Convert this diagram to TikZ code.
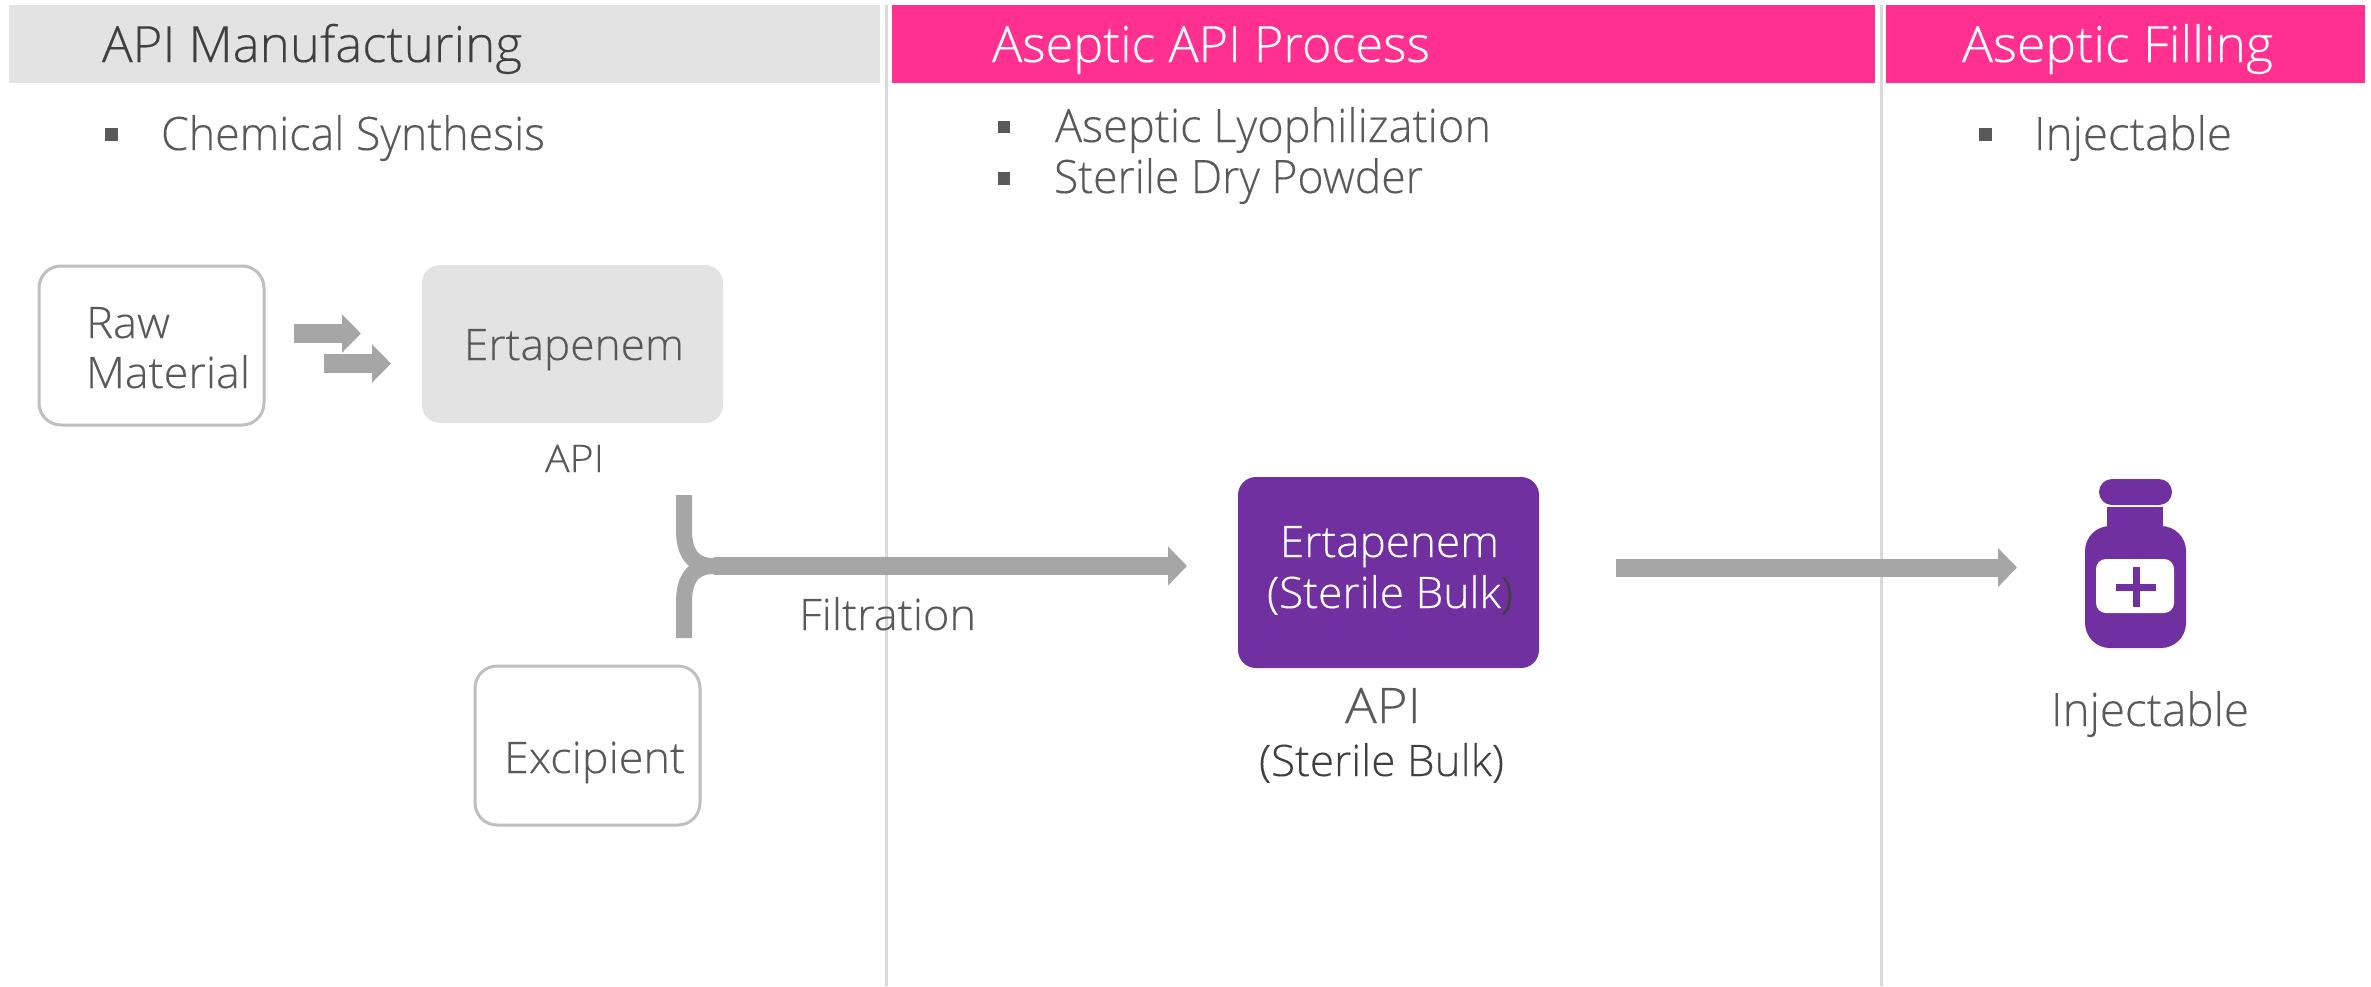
\documentclass[tikz,border=0pt]{standalone}
\usepackage{fontspec}
\usepackage{graphicx}
\setmainfont{Open Sans Light}[FakeBold=0.25,UprightFeatures={FakeBold=0.25}]
\usetikzlibrary{arrows.meta}
\definecolor{hgray}{HTML}{E3E3E3}
\definecolor{hpink}{HTML}{FF3090}
\definecolor{vpurple}{HTML}{7030A0}
\definecolor{agray}{HTML}{A6A6A6}
\definecolor{txt}{HTML}{595959}
\definecolor{txtd}{HTML}{404040}
\definecolor{edgec}{HTML}{BFBFBF}
\definecolor{divc}{HTML}{D9D9D9}
\newcommand{\tw}[2]{\resizebox{#1\dimexpr 0.5pt\relax}{\height}{#2}}
\newcommand{\fsz}[1]{\fontsize{#1pt}{#1pt}\selectfont}
\tikzset{
  x=0.5pt,y=-0.5pt,
  band/.style={fill=#1,draw=none},
  lbl/.style={inner sep=0pt,outer sep=0pt,anchor=base west,text=txt},
  bullet/.style={fill=txt,draw=none},
  divider/.style={draw=divc,line width=1.5pt},
  outlinebox/.style={draw=edgec,line width=1.5pt,rounded corners=11pt,fill=white},
  graybox/.style={fill=hgray,rounded corners=9pt},
  purplebox/.style={fill=vpurple,rounded corners=9pt},
  bigarrow/.style={draw=agray,line width=9pt,-{Triangle[width=19pt,length=9.5pt,fill=agray]}},
  smallarrow/.style={draw=agray,line width=9.7pt,-{Triangle[width=18.7pt,length=9.5pt,fill=agray]}},
  bracket/.style={draw=agray,line width=8pt},
}
\begin{document}
\begin{tikzpicture}
\useasboundingbox (0,0) rectangle (2371,986);
% dividers
\draw[divider] (886,5) -- (886,986);
\draw[divider] (1881,5) -- (1881,986);
% header bands
\fill[band=hgray] (9,5) rectangle (880,83);
\fill[band=hpink] (892,5) rectangle (1875,83);
\fill[band=hpink] (1886,5) rectangle (2365,83);
\node[lbl,text=txtd] (h1) at (102,62) {\fsz{25}\tw{420}{API Manufacturing}};
\node[lbl,text=white] (h2) at (992,62) {\fsz{25}\tw{438}{Aseptic API Process}};
\node[lbl,text=white] (h3) at (1962,62) {\fsz{25}\tw{311}{Aseptic Filling}};
% bullets
\fill[bullet] (105,128) rectangle (118,141);
\node[lbl] (b1) at (161,150) {\fsz{23}\tw{384}{Chemical Synthesis}};
\fill[bullet] (998,121) rectangle (1010,133);
\node[lbl] (b2) at (1055,142) {\fsz{23}\tw{436}{Aseptic Lyophilization}};
\fill[bullet] (998,172) rectangle (1010,185);
\node[lbl] (b3) at (1054,193) {\fsz{23}\tw{369}{Sterile Dry Powder}};
\fill[bullet] (1979,128) rectangle (1992,141);
\node[lbl] (b4) at (2034,150) {\fsz{23}\tw{198}{Injectable}};
% boxes
\draw[outlinebox] (39,266) rectangle (264,425);
\node[lbl] (raw1) at (86,338) {\fsz{21.7}\tw{84}{Raw}};
\node[lbl] (raw2) at (86,388) {\fsz{21.7}\tw{164}{Material}};
\fill[graybox] (422,265) rectangle (723,423);
\node[lbl] (ert) at (464,360) {\fsz{21.7}\tw{220}{Ertapenem}};
\node[lbl] (api1) at (545,472) {\fsz{19}\tw{59}{API}};
\draw[outlinebox] (475,666) rectangle (700,825);
\node[lbl] (exc) at (504,773) {\fsz{21.7}\tw{181}{Excipient}};
\fill[purplebox] (1238,477) rectangle (1539,668);
\node[lbl,text=white] (ert2) at (1280,557) {\fsz{21.7}\tw{219}{Ertapenem}};
\node[lbl,text=white] (bulk) at (1267,608) {\fsz{21.7}\tw{246}{(Sterile Bulk\textcolor{txtd}{)}}};
\node[lbl] (api2) at (1345,723) {\fsz{24.5}\tw{76}{API}};
\node[lbl,text=txtd] (bulk2) at (1259,776) {\fsz{21.7}\tw{245}{(Sterile Bulk)}};
\node[lbl] (fil) at (799,630) {\fsz{21.7}\tw{177}{Filtration}};
% small arrows
\coordinate (s1a) at (294,333.5); \coordinate (s1b) at (361,333.5);
\coordinate (s2a) at (324,363.5); \coordinate (s2b) at (391,363.5);
\draw[smallarrow] (s1a) -- (s1b);
\draw[smallarrow] (s2a) -- (s2b);
% bracket and long arrows
\coordinate (jn) at (714,566);
\coordinate (top) at (684,495);
\coordinate (bot) at (684,638);
\coordinate (tip1) at (1187,566);
\coordinate (a2s) at (1616,567.5);
\coordinate (tip2) at (2017,567.5);
\draw[bracket] (top) -- (684,530) .. controls (684,552) and (692,566) .. (jn);
\draw[bracket] (bot) -- (684,602) .. controls (684,580) and (692,566) .. (jn);
\draw[bigarrow] (jn) -- (tip1);
\draw[bigarrow] (a2s) -- (tip2);
% bottle
\fill[vpurple,rounded corners=6.5pt] (2099,479) rectangle (2172,505);
\fill[vpurple] (2107,507) rectangle (2163,530);
\fill[vpurple,rounded corners=12.5pt] (2085,526) rectangle (2186,648);
\fill[white,rounded corners=5pt] (2096,559) rectangle (2174,613);
\fill[vpurple] (2116,583.5) rectangle (2156,590.5);
\fill[vpurple] (2132.5,567) rectangle (2139.5,607);
\node[lbl] (inj) at (2051,726) {\fsz{23}\tw{198}{Injectable}};
\end{tikzpicture}
\end{document}
